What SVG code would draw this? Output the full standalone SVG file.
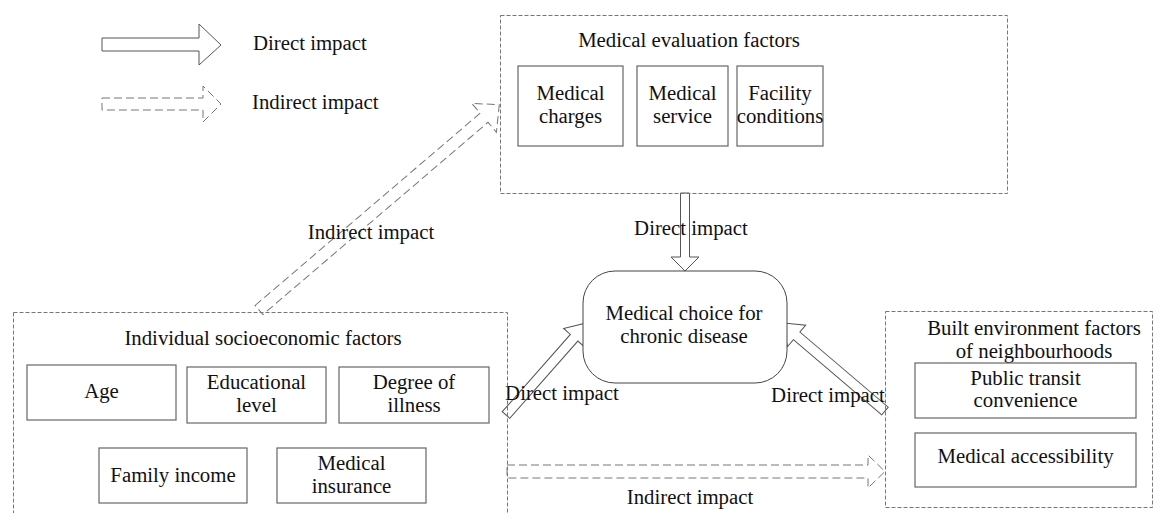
<svg xmlns="http://www.w3.org/2000/svg" width="1156" height="513" viewBox="0 0 1156 513">
<style>
text{font-family:"Liberation Serif","Times New Roman",serif;font-size:20.8px;fill:#111;text-anchor:middle}
.lg{text-anchor:start}
.grp{fill:none;stroke:#777;stroke-width:1;stroke-dasharray:4,2}
.box{fill:#fff;stroke:#666;stroke-width:1.2}
.da{fill:#fff;stroke:#555;stroke-width:1}
.ia{fill:none;stroke:#777;stroke-width:1;stroke-dasharray:8,4}
</style>
<rect width="1156" height="513" fill="#fff"/>
<g id="legend">
<polygon class="da" points="102,38 199,38 199,24 221,45 199,65 199,51 102,51"/>
<text class="lg" x="253" y="50">Direct impact</text>
<polygon class="ia" points="102,98 203,98 203,86 221,104 203,122 203,110 102,110"/>
<text class="lg" x="252" y="109">Indirect impact</text>
</g>
<g id="connectors">
<polygon class="da" points="680.5,193 689.5,193 689.5,257 699,257 685,271 671,257 680.5,257"/>
<text x="691" y="235">Direct impact</text>
<polygon class="da" transform="translate(506,415) rotate(-48.6)" points="0,-5 103,-5 103,-14 123,0 103,14 103,5 0,5"/>
<text x="562" y="400">Direct impact</text>
<polygon class="da" transform="translate(885,411) rotate(-139.6)" points="0,-5 116,-5 116,-14 136,0 116,14 116,5 0,5"/>
<text x="828" y="402">Direct impact</text>
<polygon class="ia" transform="translate(259,310) rotate(-40.5)" points="0,-6 296,-6 296,-19 316,0 296,19 296,6 0,6"/>
<text x="371" y="239">Indirect impact</text>
<polygon class="ia" points="507,465 868,465 868,455 885,471.5 868,488 868,478 507,478"/>
<text x="690" y="504">Indirect impact</text>
</g>
<g id="medical-evaluation">
<rect class="grp" x="500.5" y="15.5" width="507" height="178"/>
<text x="689" y="47">Medical evaluation factors</text>
<rect class="box" x="518" y="66" width="105" height="80"/>
<text x="570.5" y="100">Medical</text>
<text x="570.5" y="123">charges</text>
<rect class="box" x="637" y="66" width="91" height="80"/>
<text x="682.5" y="100">Medical</text>
<text x="682.5" y="123">service</text>
<rect class="box" x="737" y="66" width="86" height="80"/>
<text x="780" y="100">Facility</text>
<text x="780" y="123">conditions</text>
</g>
<g id="medical-choice">
<rect x="583" y="271" width="204" height="112" rx="32" ry="32" fill="#fff" stroke="#444" stroke-width="1"/>
<text x="684" y="320">Medical choice for</text>
<text x="684" y="343">chronic disease</text>
</g>
<g id="individual">
<rect class="grp" x="13.5" y="312.5" width="494" height="210"/>
<text x="263" y="345">Individual socioeconomic factors</text>
<rect class="box" x="27" y="365" width="149" height="55"/>
<text x="101.5" y="398">Age</text>
<rect class="box" x="187" y="367" width="139" height="56"/>
<text x="256.5" y="389">Educational</text>
<text x="256.5" y="412">level</text>
<rect class="box" x="339" y="367" width="150" height="56"/>
<text x="414" y="389">Degree of</text>
<text x="414" y="412">illness</text>
<rect class="box" x="99" y="448" width="148" height="55"/>
<text x="173" y="482">Family income</text>
<rect class="box" x="277" y="448" width="149" height="55"/>
<text x="351.5" y="470">Medical</text>
<text x="351.5" y="493">insurance</text>
</g>
<g id="built-environment">
<rect class="grp" x="885.5" y="311.5" width="267" height="196"/>
<text x="1034" y="335">Built environment factors</text>
<text x="1034" y="358">of neighbourhoods</text>
<rect class="box" x="915" y="363" width="221" height="55"/>
<text x="1025.5" y="385">Public transit</text>
<text x="1025.5" y="407">convenience</text>
<rect class="box" x="915" y="433" width="221" height="54"/>
<text x="1025.5" y="463">Medical accessibility</text>
</g>
</svg>
